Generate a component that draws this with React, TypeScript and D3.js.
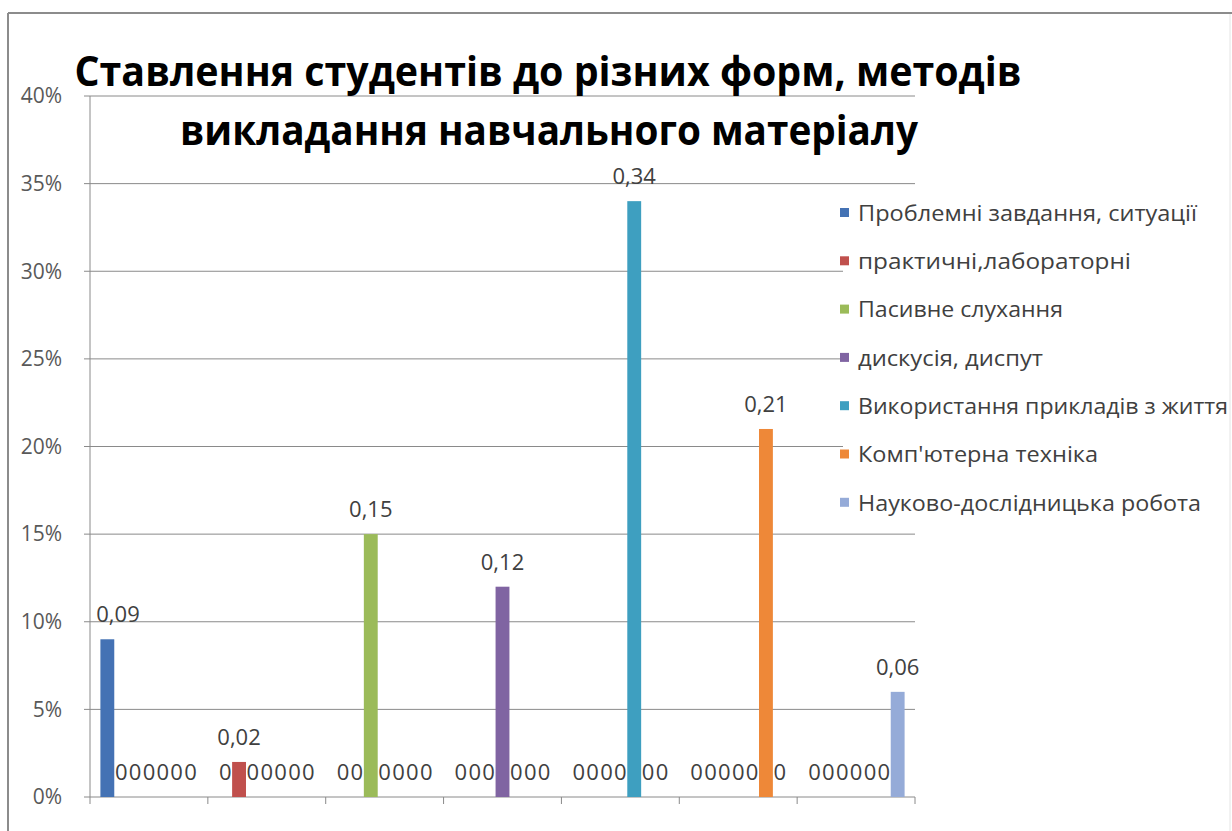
import React from "react";
import * as d3 from "d3";

// Category slots along the x axis (not labelled on the chart)
const categories = ["1", "2", "3", "4", "5", "6", "7"];

// Series names, in legend order
const seriesNames = [
  "Проблемні завдання, ситуації",
  "практичні,лабораторні",
  "Пасивне слухання",
  "дискусія, диспут",
  "Використання прикладів з життя",
  "Комп'ютерна техніка",
  "Науково-дослідницька робота",
];

// Values of each series per category slot
const problemni = [0.09, 0, 0, 0, 0, 0, 0];
const praktychni = [0, 0.02, 0, 0, 0, 0, 0];
const pasyvne = [0, 0, 0.15, 0, 0, 0, 0];
const dyskusiia = [0, 0, 0, 0.12, 0, 0, 0];
const pryklady = [0, 0, 0, 0, 0.34, 0, 0];
const kompiuterna = [0, 0, 0, 0, 0, 0.21, 0];
const naukovo = [0, 0, 0, 0, 0, 0, 0.06];

const seriesValues = [problemni, praktychni, pasyvne, dyskusiia, pryklady, kompiuterna, naukovo];

const seriesColors = ["#4472B4", "#C0504D", "#9BBB59", "#8064A2", "#3E9FC0", "#EE8838", "#95ABD8"];

const yTicks = [0, 0.05, 0.1, 0.15, 0.2, 0.25, 0.3, 0.35, 0.4];

const titleLines = ["Ставлення студентів до різних форм, методів", "викладання навчального матеріалу"];

// Rendered widths of the legend entries
const legendWidths = [339, 273, 205, 185, 370, 240, 343];

const W = 1232;
const H = 831;
const FONT = "'Open Sans', 'Noto Sans', sans-serif";

export default function App() {
  const left = 90;
  const right = 915;
  const top = 96;
  const bottom = 797;

  const y = d3.scaleLinear().domain([0, 0.4]).range([bottom, top]);
  const x0 = d3.scaleBand<string>().domain(categories).range([left, right]).paddingInner(0).paddingOuter(0);
  const x1 = d3
    .scaleBand<number>()
    .domain(d3.range(seriesNames.length))
    .range([0, x0.bandwidth()])
    .paddingInner(0)
    .paddingOuter(0.75);

  const pct = d3.format(".0%");
  const fmtLabel = (v: number) => (v === 0 ? "0" : d3.format(".2f")(v).replace(".", ","));

  const labelSize = 22;
  const legendX = 840;
  const legendY0 = 213;
  const legendStep = 48.3;

  const gridColor = "#8a8a8a";

  return (
    <svg
      width={W}
      height={H}
      style={{ position: "absolute", left: 0, top: 0, background: "#fff" }}
      fontFamily={FONT}
    >
      <rect x={0} y={0} width={W} height={H} fill="#fff" />

      {/* horizontal gridlines and value axis ticks */}
      {yTicks.map((t) => (
        <g key={t}>
          <line x1={left - 6} x2={right} y1={y(t)} y2={y(t)} stroke={gridColor} strokeWidth={1} />
          <text x={62} y={y(t)} dy="0.35em" textAnchor="end" fontSize={21} fill="#595959">
            {pct(t)}
          </text>
        </g>
      ))}

      {/* value axis line */}
      <line x1={left} x2={left} y1={top} y2={bottom} stroke={gridColor} strokeWidth={1} />

      {/* category tick marks */}
      {categories.map((c) => (
        <line key={c} x1={x0(c)!} x2={x0(c)!} y1={bottom} y2={bottom + 7} stroke={gridColor} strokeWidth={1} />
      ))}
      <line x1={right} x2={right} y1={bottom} y2={bottom + 7} stroke={gridColor} strokeWidth={1} />

      {/* bars */}
      {categories.map((c, ci) => (
        <g key={c} transform={`translate(${x0(c)},0)`}>
          {seriesValues.map((vals, si) => {
            const v = vals[ci];
            return (
              <rect
                key={si}
                x={x1(si)!}
                y={y(v)}
                width={x1.bandwidth()}
                height={bottom - y(v)}
                fill={seriesColors[si]}
              />
            );
          })}
        </g>
      ))}

      {/* data labels */}
      {categories.map((c, ci) =>
        seriesValues.map((vals, si) => {
          const v = vals[ci];
          const cx = x0(c)! + x1(si)! + x1.bandwidth() / 2;
          const label = fmtLabel(v);
          const half = (label.length * 0.5 * labelSize) / 2;
          const lx = Math.max(cx, left + 6 + half);
          return (
            <text
              key={`${c}-${si}`}
              x={lx}
              y={y(v) - 17}
              textAnchor="middle"
              fontSize={labelSize}
              fill="#404040"
            >
              {label}
            </text>
          );
        })
      )}

      {/* legend */}
      <rect x={843} y={190} width={W - 843} height={336} fill="#fff" />
      {seriesNames.map((name, i) => (
        <g key={name} transform={`translate(${legendX},${legendY0 + i * legendStep})`}>
          <rect x={0} y={-5} width={9} height={9} fill={seriesColors[i]} />
          <text
            x={18}
            y={0}
            dy="0.35em"
            fontSize={22}
            fill="#404040"
            textLength={legendWidths[i]}
            lengthAdjust="spacingAndGlyphs"
          >
            {name}
          </text>
        </g>
      ))}

      {/* outer chart frame */}
      <line x1={8} x2={W} y1={13} y2={13} stroke="#8c8c8c" strokeWidth={2} />
      <line x1={8} x2={8} y1={13} y2={H} stroke="#8c8c8c" strokeWidth={2} />
      <line x1={W - 2} x2={W - 2} y1={14} y2={H} stroke="#e4e4e4" strokeWidth={1} />

      {/* title */}
      <text x={548} y={86} textAnchor="middle" fontSize={42} fontWeight="bold" fill="#000" textLength={947} lengthAdjust="spacingAndGlyphs">
        {titleLines[0]}
      </text>
      <text x={549} y={145} textAnchor="middle" fontSize={42} fontWeight="bold" fill="#000" textLength={738} lengthAdjust="spacingAndGlyphs">
        {titleLines[1]}
      </text>
    </svg>
  );
}
